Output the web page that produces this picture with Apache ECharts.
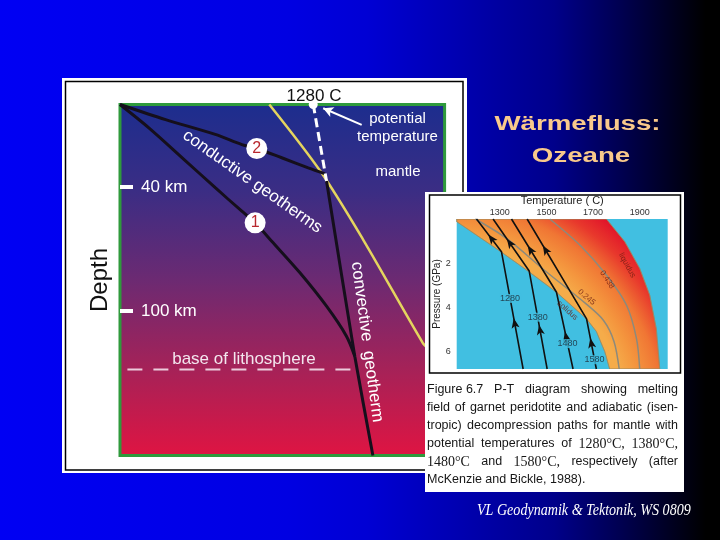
<!DOCTYPE html>
<html><head><meta charset="utf-8">
<script src="https://cdn.jsdelivr.net/npm/echarts@6.0.0/dist/echarts.min.js"></script>
<style>html,body{margin:0;padding:0;overflow:hidden;background:#000}#chart{width:720px;height:540px}</style>
</head><body><div id="chart"></div>
<script>
// ---------- Left diagram: schematic temperature (°C) vs depth (km) ----------
const geotherm1 = [[0,0],[191,11.3],[412,25.8],[631,40.3],[807,51.7],[895,57.3],[1005,66.2],[1192,81.5],[1368,97.7],[1500,112.2],[1555,121.9]];
const geotherm2 = [[0,0],[302,7.3],[631,14.5],[807,19.4],[906,21.3],[1071,25.8],[1247,30.7],[1358,33.6]];
const potentialAdiabat = [[1280,0],[1368,37.1]];
const convectiveGeotherm = [[1368,37.1],[1555,121.9],[1675,170]];
const mantleSolidusLine = [[989,0],[1330,32.6],[1610,65.4],[2005,115.4],[2040,118]];
const lithosphereBase = [[49,128.3],[1543,128.3]];
const depthTicks = [40,100];
const geothermMarkers = [{name:'2',value:[906,21.3]},{name:'1',value:[895,57.3]}];
const potentialTemp = [[1280,0]];
const potentialArrow = [[1601,9.9],[1346,1.8]];

// ---------- Inset: P-T diagram (T in °C, P in GPa) ----------
const insetTempTicks = [1300,1500,1700,1900];
const insetPressTicks = [2,4,6];
const solidus = [[1115,0.12],[1300,1.45],[1421,2.36],[1543,3.32],[1672,4.53],[1714,5.1],[1750,6.01],[1771,6.8]];
const liquidusEdge = [[1757,0],[1836,1.03],[1900,2.24],[1943,3.45],[1971,4.96],[1986,6.8]];
const contour0245 = [[1195,0],[1329,0.88],[1490,2.31],[1670,3.85],[1745,4.6],[1790,5.56],[1812,6.8]];
const contour0438 = [[1514,0],[1643,1.18],[1757,2.54],[1843,3.9],[1886,5.41],[1900,6.8]];
const adiabatNames = ['1280','1380','1480','1580'];
const adiabats = [
  [[1400,6.8],[1307,1.48],[1200,0]],
  [[1503,6.8],[1426,2.36],[1271,0]],
  [[1614,6.8],[1543,3.32],[1350,0]],
  [[1714,6.8],[1672,4.53],[1417,0]]
];
const arrowLowerP = [4.5,4.8,5.1,5.4];
const arrowUpperP = [0.7,0.9,1.2,1.2];
const adiabatLabelP = [3.6,4.45,5.65,6.38];
const contourLabels = [
  {text:'solidus', value:[1590,4.15], rot:-42},
  {text:'0.245', value:[1672,3.55], rot:-40},
  {text:'0.438', value:[1760,2.75], rot:-56},
  {text:'liquidus', value:[1846,2.1], rot:-61}
];

// ---------- Caption ----------
const captionLines = [
  'Figure\u00a06.7 P-T diagram showing melting',
  'field of garnet peridotite and adiabatic (isen-',
  'tropic) decompression paths for mantle with',
  'potential temperatures of 1280°C, 1380°C,',
  '1480°C and 1580°C, respectively (after',
  'McKenzie and Bickle, 1988).'
];

function tAtP(path, p){
  for (let i=0;i<path.length-1;i++){
    const a=path[i], b=path[i+1];
    const lo=Math.min(a[1],b[1]), hi=Math.max(a[1],b[1]);
    if (p>=lo && p<=hi){ const f=(p-a[1])/(b[1]-a[1]); return a[0]+f*(b[0]-a[0]); }
  }
  return path[path.length-1][0];
}

function captionElements(){
  const ctx=document.createElement('canvas').getContext('2d');
  const sans='12.5px "Liberation Sans"', serif='14px "Liberation Serif"';
  const left=427, right=678, top0=390, lh=18;
  const els=[];
  captionLines.forEach((line,li)=>{
    const words=line.split(' ');
    const fonts=words.map(w=>/\d{4}°C/.test(w)?serif:sans);
    const widths=words.map((w,i)=>{ctx.font=fonts[i];return ctx.measureText(w).width;});
    const total=widths.reduce((a,b)=>a+b,0);
    ctx.font=sans;
    const justify=li<captionLines.length-1 && words.length>1;
    const gap=justify?(right-left-total)/(words.length-1):ctx.measureText(' ').width;
    let x=left;
    words.forEach((w,i)=>{
      els.push({type:'text',z:16,x:x,y:top0+li*lh,style:{text:w,font:fonts[i],fill:'#161616',align:'left',verticalAlign:'middle'}});
      x+=widths[i]+gap;
    });
  });
  return els;
}

const chart=echarts.init(document.getElementById('chart'),null,{renderer:'canvas',width:720,height:540});

const blackLine={color:'#150f1c',width:3};
const insetLineSeries=[];
adiabats.forEach((a,i)=>{
  insetLineSeries.push({type:'line',name:adiabatNames[i],xAxisIndex:1,yAxisIndex:1,z:12,data:a,showSymbol:false,symbol:'none',lineStyle:{color:'#111',width:1.6},silent:true});
});

const option={
  animation:false,
  backgroundColor:{type:'linear',x:0,y:0,x2:1,y2:0,colorStops:[
    {offset:0,color:'#0000f4'},{offset:0.4,color:'#0000e2'},{offset:0.51,color:'#0000d4'},
    {offset:0.64,color:'#0000b0'},{offset:0.77,color:'#00008a'},{offset:0.86,color:'#000052'},
    {offset:0.93,color:'#000022'},{offset:0.98,color:'#000000'},{offset:1,color:'#000000'}]},
  textStyle:{fontFamily:'Liberation Sans'},
  grid:[
    {left:120,top:104.5,width:324.6,height:351,show:true,z:1,borderColor:'#2f9a3c',borderWidth:3,
     backgroundColor:{type:'linear',x:0,y:0,x2:0,y2:1,colorStops:[
       {offset:0,color:'#1c2d8e'},{offset:0.25,color:'#3b2d84'},{offset:0.5,color:'#6c2a72'},
       {offset:0.75,color:'#a52258'},{offset:1,color:'#e01442'}]}},
    {left:456.7,top:219,width:211,height:150,show:true,z:11,backgroundColor:'#41bfe1',borderWidth:0}
  ],
  xAxis:[
    {gridIndex:0,type:'value',min:0,max:2150,show:false},
    {gridIndex:1,type:'value',min:1115,max:2020,position:'top',z:13,
     axisLine:{show:false},axisTick:{show:false},splitLine:{show:false},
     axisLabel:{customValues:insetTempTicks,fontSize:9,color:'#333',margin:2,formatter:v=>String(v)},
     name:'Temperature ( C)',nameLocation:'middle',nameGap:13,nameTextStyle:{fontSize:11,color:'#222'}}
  ],
  yAxis:[
    {gridIndex:0,type:'value',min:0,max:170,inverse:true,z:3,
     axisLine:{show:false},splitLine:{show:false},
     axisTick:{show:true,inside:true,length:13,customValues:depthTicks,lineStyle:{color:'#fff',width:4}},
     axisLabel:{inside:true,customValues:depthTicks,margin:21,color:'#fff',fontSize:17,formatter:'{value} km'},
     name:'Depth',nameLocation:'middle',nameRotate:90,nameGap:8,nameTextStyle:{fontSize:24,color:'#111'}},
    {gridIndex:1,type:'value',min:0,max:6.8,inverse:true,z:13,
     axisLine:{show:false},axisTick:{show:false},splitLine:{show:false},
     axisLabel:{customValues:insetPressTicks,fontSize:9,color:'#333',margin:6},
     name:'Pressure (GPa)',nameLocation:'middle',nameRotate:90,nameGap:13,nameTextStyle:{fontSize:10,color:'#222'}}
  ],
  series:[
    {type:'line',name:'mantle solidus',data:mantleSolidusLine,z:2,symbol:'none',smooth:0.3,lineStyle:{color:'#e4d45e',width:2.5},silent:true},
    {type:'line',name:'geotherm 1',data:geotherm1,z:3,symbol:'none',smooth:0.3,lineStyle:blackLine,silent:true},
    {type:'line',name:'geotherm 2',data:geotherm2,z:3,symbol:'none',smooth:0.3,lineStyle:blackLine,silent:true},
    {type:'line',name:'convective geotherm',data:convectiveGeotherm,z:3,symbol:'none',smooth:0.2,lineStyle:blackLine,silent:true},
    {type:'line',name:'potential adiabat',data:potentialAdiabat,z:4,symbol:'none',lineStyle:{color:'#fff',width:3,type:[9,5]},silent:true},
    {type:'line',name:'base of lithosphere',data:lithosphereBase,z:3,symbol:'none',lineStyle:{color:'#eccbdc',width:2,type:[15,11]},silent:true},
    {type:'scatter',name:'markers',data:geothermMarkers,z:5,symbolSize:21,itemStyle:{color:'#fff',opacity:1},silent:true,
     label:{show:true,position:'inside',formatter:'{b}',color:'#b8282e',fontSize:16}},
    {type:'scatter',name:'potential temperature',data:potentialTemp,z:5,symbolSize:9,itemStyle:{color:'#fff',opacity:1},silent:true,
     markLine:{silent:true,symbol:['none','arrow'],symbolSize:[8,10],label:{show:false},
       lineStyle:{color:'#fff',width:2,type:'solid'},data:[[{coord:potentialArrow[0]},{coord:potentialArrow[1]}]]}},
    // inset
    {type:'custom',name:'melt field',xAxisIndex:1,yAxisIndex:1,z:12,data:[0],silent:true,clip:true,
     renderItem:function(params,api){
       const ring=[[solidus[0][0],0]].concat(solidus,liquidusEdge.slice().reverse());
       const pts=ring.map(p=>api.coord(p));
       const c=api.coord([1043,9.56]);
       return {type:'polygon',shape:{points:pts},style:{fill:new echarts.graphic.RadialGradient(c[0],c[1],270,[
         {offset:0,color:'#f5ac4a'},{offset:0.7,color:'#f5ac4a'},{offset:0.76,color:'#f4963e'},
         {offset:0.84,color:'#f07634'},{offset:0.92,color:'#e8382c'},{offset:1,color:'#e0102a'}],true),stroke:'#9a8a60',lineWidth:0.6}};
     }},
    {type:'line',name:'0.245',xAxisIndex:1,yAxisIndex:1,z:12,data:contour0245,symbol:'none',smooth:0.3,lineStyle:{color:'#8c8a7c',width:1.5},silent:true},
    {type:'line',name:'0.438',xAxisIndex:1,yAxisIndex:1,z:12,data:contour0438,symbol:'none',smooth:0.3,lineStyle:{color:'#8c8a7c',width:1.5},silent:true}
  ].concat(insetLineSeries),
  graphic:[
    {type:'rect',z:0,shape:{x:62,y:78,width:405,height:395},style:{fill:'#fff'}},
    {type:'rect',z:0,shape:{x:65.5,y:81.5,width:397.5,height:388.5},style:{fill:'none',stroke:'#000',lineWidth:1.5}},
    {type:'text',z:6,x:314,y:96.5,style:{text:'1280 C',font:'17px "Liberation Sans"',fill:'#111',align:'center',verticalAlign:'middle'}},
    {type:'text',z:6,x:397.5,y:119,style:{text:'potential',font:'15px "Liberation Sans"',fill:'#fff',align:'center',verticalAlign:'middle'}},
    {type:'text',z:6,x:397.5,y:136.7,style:{text:'temperature',font:'15px "Liberation Sans"',fill:'#fff',align:'center',verticalAlign:'middle'}},
    {type:'text',z:6,x:398,y:171.7,style:{text:'mantle',font:'15px "Liberation Sans"',fill:'#fff',align:'center',verticalAlign:'middle'}},
    {type:'text',z:6,x:252.5,y:181.7,rotation:-0.614,style:{text:'conductive geotherms',font:'17px "Liberation Sans"',fill:'#fff',align:'center',verticalAlign:'middle'}},
    {type:'text',z:6,x:367,y:342,rotation:-1.438,style:{text:'convective  geotherm',font:'17px "Liberation Sans"',fill:'#fff',align:'center',verticalAlign:'middle'}},
    {type:'text',z:6,x:244,y:359,style:{text:'base of lithosphere',font:'17px "Liberation Sans"',fill:'#f3e6ee',align:'center',verticalAlign:'middle'}},
    // inset panel
    {type:'rect',z:10,shape:{x:425,y:192,width:259,height:300},style:{fill:'#fff'}},
    {type:'rect',z:14,shape:{x:429.5,y:195,width:251,height:178},style:{fill:'none',stroke:'#000',lineWidth:1.5}},
    // title & footer
    {type:'text',z:20,x:577.5,y:125,scaleX:1.42,style:{text:'Wärmefluss:',font:'bold 19.5px "Liberation Sans"',fill:'#f9c98b',align:'center',verticalAlign:'middle'}},
    {type:'text',z:20,x:581,y:157,scaleX:1.42,style:{text:'Ozeane',font:'bold 19.5px "Liberation Sans"',fill:'#f9c98b',align:'center',verticalAlign:'middle'}},
    {type:'text',z:20,x:477,y:511,scaleX:0.88,style:{text:'VL Geodynamik & Tektonik, WS 0809',font:'italic 16px "Liberation Serif"',fill:'#fff',align:'left',verticalAlign:'middle'}}
  ].concat(captionElements())
};
chart.setOption(option);

// second pass: arrowheads & labels on inset adiabats, oriented through the chart's own scales
const arrowData=[], labelData=[];
adiabats.forEach((a,i)=>{
  [arrowLowerP[i],arrowUpperP[i]].forEach(p=>{
    const t=tAtP(a,p);
    const p1=chart.convertToPixel({xAxisIndex:1,yAxisIndex:1},[tAtP(a,p+0.15),p+0.15]);
    const p2=chart.convertToPixel({xAxisIndex:1,yAxisIndex:1},[tAtP(a,p-0.15),p-0.15]);
    const dx=p2[0]-p1[0], dy=p2[1]-p1[1];
    arrowData.push({value:[t,p],symbolRotate:Math.atan2(-dx,-dy)*180/Math.PI});
  });
  labelData.push({name:adiabatNames[i],value:[tAtP(a,adiabatLabelP[i]),adiabatLabelP[i]]});
});
chart.setOption({series:option.series.concat([
  {type:'scatter',name:'arrows',xAxisIndex:1,yAxisIndex:1,z:13,data:arrowData,symbol:'arrow',symbolSize:[6,10],itemStyle:{color:'#111',opacity:1},silent:true},
  {type:'scatter',name:'adiabat labels',xAxisIndex:1,yAxisIndex:1,z:13,data:labelData,symbolSize:0,silent:true,
   label:{show:true,position:'inside',formatter:'{b}',fontSize:9,color:'#1a2430',backgroundColor:'#41bfe1',padding:[0,1]}},
  {type:'scatter',name:'contour labels',xAxisIndex:1,yAxisIndex:1,z:13,symbolSize:0,silent:true,
   data:contourLabels.map(c=>({name:c.text,value:c.value,label:{rotate:c.rot}})),
   label:{show:true,position:'inside',formatter:'{b}',fontSize:8,color:'#6a1a10'}}
])});
</script></body></html>
